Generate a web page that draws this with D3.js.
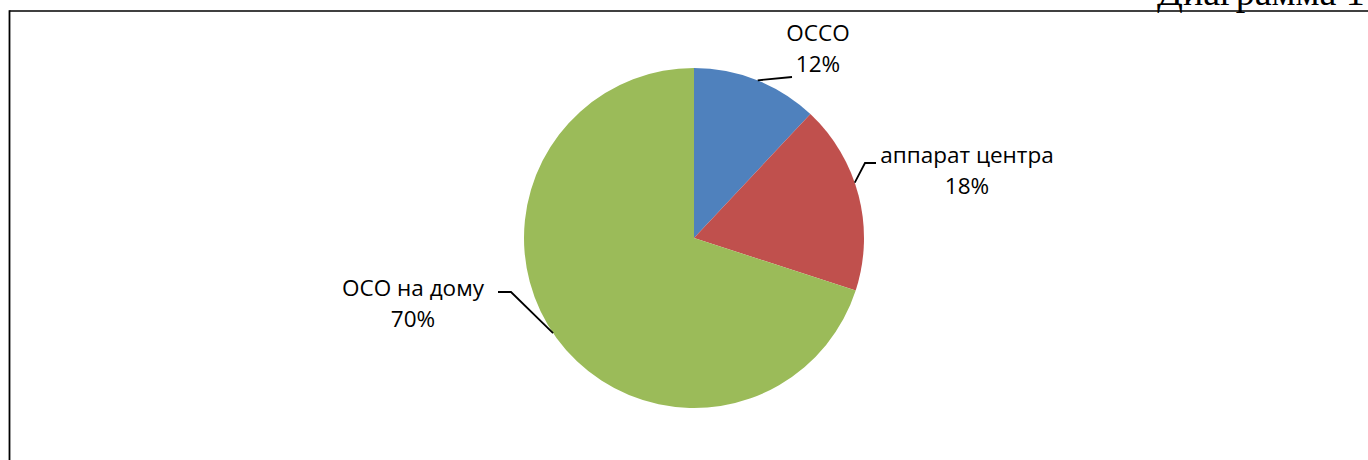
<!DOCTYPE html>
<html>
<head>
<meta charset="utf-8">
<script src="https://cdn.jsdelivr.net/npm/d3@7"></script>
<style>
  html, body { margin: 0; padding: 0; background: #fff; }
  svg { display: block; }
</style>
</head>
<body>
<svg id="chart" width="1368" height="460"></svg>
<script>
const categories = ["ОССО", "аппарат центра", "ОСО на дому"];
const values = [12, 18, 70];
const percentLabels = ["12%", "18%", "70%"];
const colors = ["#4F81BD", "#C0504D", "#9BBB59"];
const titleText = "Диаграмма 1";

const svg = d3.select("#chart");
const W = 1368, H = 460;
const cx = 694, cy = 238, R = 170;

// frame lines (top and left)
svg.append("line").attr("x1", 9.5).attr("y1", 11).attr("x2", W).attr("y2", 11)
  .attr("stroke", "#000").attr("stroke-width", 1.6);
svg.append("line").attr("x1", 9.5).attr("y1", 10.2).attr("x2", 9.5).attr("y2", H)
  .attr("stroke", "#000").attr("stroke-width", 1.8);

// title (cut off at top, as in the reference)
svg.append("text").attr("x", 1157).attr("y", 5)
  .attr("font-family", "Liberation Serif, Times New Roman, serif")
  .attr("font-size", 38).attr("fill", "#000").text(titleText);

const pie = d3.pie().sort(null).value(d => d);
const arcs = pie(values);
const arc = d3.arc().innerRadius(0).outerRadius(R);

const g = svg.append("g").attr("transform", `translate(${cx},${cy})`);
g.selectAll("path").data(arcs).join("path")
  .attr("d", arc).attr("fill", (d, i) => colors[i]);

const labelPos = [
  { dx: 124, y1: 41, y2: 72 },
  { dx: 273, y1: 163, y2: 194 },
  { dx: -281, y1: 296, y2: 327 }
];
const fontFam = "Open Sans, Noto Sans, sans-serif";
const fs = 22.5;
arcs.forEach((a, i) => {
  const p = labelPos[i];
  const tx = cx + p.dx;
  svg.append("text").attr("x", tx).attr("y", p.y1).attr("text-anchor", "middle")
    .attr("font-family", fontFam).attr("font-size", fs).attr("fill", "#000")
    .text(categories[i]);
  svg.append("text").attr("x", tx).attr("y", p.y2).attr("text-anchor", "middle")
    .attr("font-family", fontFam).attr("font-size", fs).attr("fill", "#000")
    .text(percentLabels[i]);
});

function edge(angleDeg) {
  const t = angleDeg * Math.PI / 180;
  return [cx + R * Math.sin(t), cy - R * Math.cos(t)];
}
const leaders = [
  { a: 22, pts: [[792, 77]] },
  { a: 71, pts: [[865, 163], [876, 163]] },
  { a: 236, pts: [[511, 292], [498, 292]] }
];
leaders.forEach(l => {
  const s = edge(l.a);
  const pts = [s, ...l.pts];
  svg.append("path").attr("d", d3.line()(pts))
    .attr("fill", "none").attr("stroke", "#000").attr("stroke-width", 1.8);
});
</script>
</body>
</html>
